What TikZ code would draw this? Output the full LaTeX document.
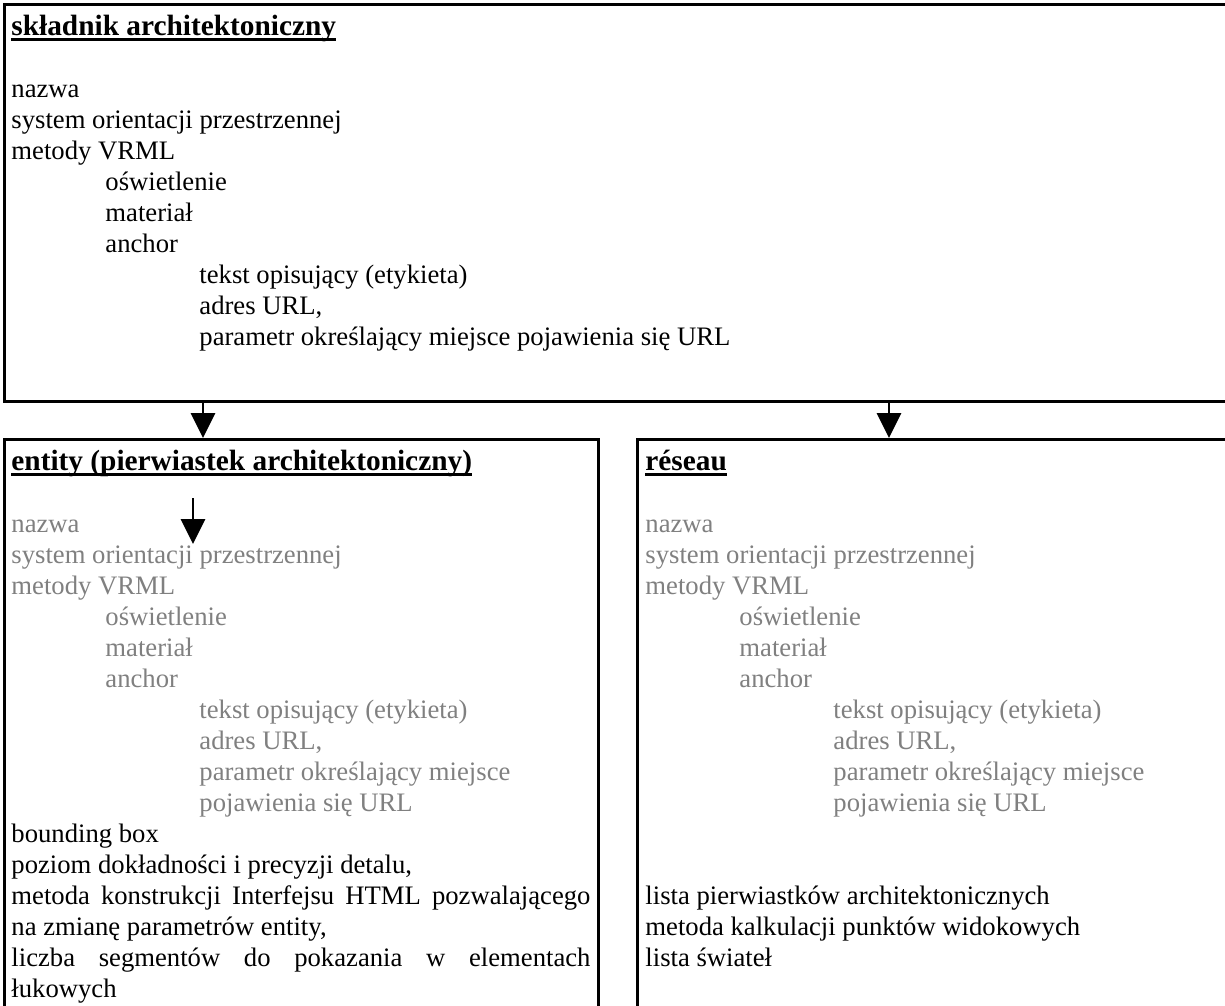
\documentclass[tikz,border=0pt]{standalone}
\usepackage{fontspec}
\setmainfont{Liberation Serif}
\usetikzlibrary{positioning,arrows.meta}
\newdimen\px \px=0.45pt
\definecolor{ghost}{RGB}{128,128,128}
\newcommand\heading[1]{\setbox0\hbox{\fontsize{13.2}{14}\selectfont\bfseries #1}\rlap{\rule[-2.8pt]{\wd0}{1.4pt}}\box0}

\begin{document}
\begin{tikzpicture}[x=0.45pt,y=-0.45pt,
  panel/.style={draw,line width=1.3pt,inner sep=0,anchor=north west},
  line/.style={anchor=base west,inner sep=0,font=\fontsize{12}{14}\selectfont},
  faint/.style={line,text=ghost},
  link/.style={line width=1.3pt,-{Triangle[width=10.8pt,length=11.2pt]}}]
\useasboundingbox (0,0) rectangle (1225,1005);
\clip (0,0) rectangle (1225,1005);
\node[panel,minimum width=1240\px,minimum height=397\px] (skladnik) at (3,3) {};
\node[panel,minimum width=594\px,minimum height=600\px] (entity) at (3,438) {};
\node[panel,minimum width=610\px,minimum height=600\px] (reseau) at (636,438) {};
\coordinate (entity in) at (203,438);
\coordinate (reseau in) at (889,438);
\coordinate (hint top) at (193,498);
\coordinate (hint) at (193,544);
\draw[link] (skladnik.south -| entity in)--(entity in);
\draw[link] (skladnik.south -| reseau in)--(reseau in);
\draw[link] (hint top)--(hint);
\node[line] (sk-0) at (11,35) {\heading{składnik architektoniczny}};
\foreach \lvl/\txt [count=\i from 2] in {0/nazwa,0/system orientacji przestrzennej,0/metody VRML,
    1/oświetlenie,1/materiał,1/anchor,
    2/tekst opisujący (etykieta),2/{adres URL,},2/parametr określający miejsce pojawienia się URL}
  \node[line] (sk-\i) at (11+94*\lvl,35+31*\i) {\txt};
\node[line] (entity-0) at (11,470) {\heading{entity (pierwiastek architektoniczny)}};
\node[line] (reseau-0) at (645,470) {\heading{réseau}};
\foreach \bx/\x in {entity/11,reseau/645}
  \foreach \lvl/\txt [count=\i from 2] in {0/nazwa,0/system orientacji przestrzennej,0/metody VRML,
      1/oświetlenie,1/materiał,1/anchor,
      2/tekst opisujący (etykieta),2/{adres URL,},2/parametr określający miejsce,2/pojawienia się URL}
    \node[faint] (\bx-\i) at (\x+94*\lvl,470+31*\i) {\txt};
\foreach \txt [count=\i from 12] in {bounding box,{poziom dokładności i precyzji detalu,},
    \makebox[579\px][s]{metoda konstrukcji Interfejsu HTML pozwalającego},
    {na zmianę parametrów entity,},
    \makebox[579\px][s]{liczba segmentów do pokazania w elementach},łukowych}
  \node[line] (entity-\i) at (11,470+31*\i) {\txt};
\foreach \txt [count=\i from 14] in {lista pierwiastków architektonicznych,
    metoda kalkulacji punktów widokowych,lista świateł}
  \node[line] (reseau-\i) at (645,470+31*\i) {\txt};
\end{tikzpicture}
\end{document}
